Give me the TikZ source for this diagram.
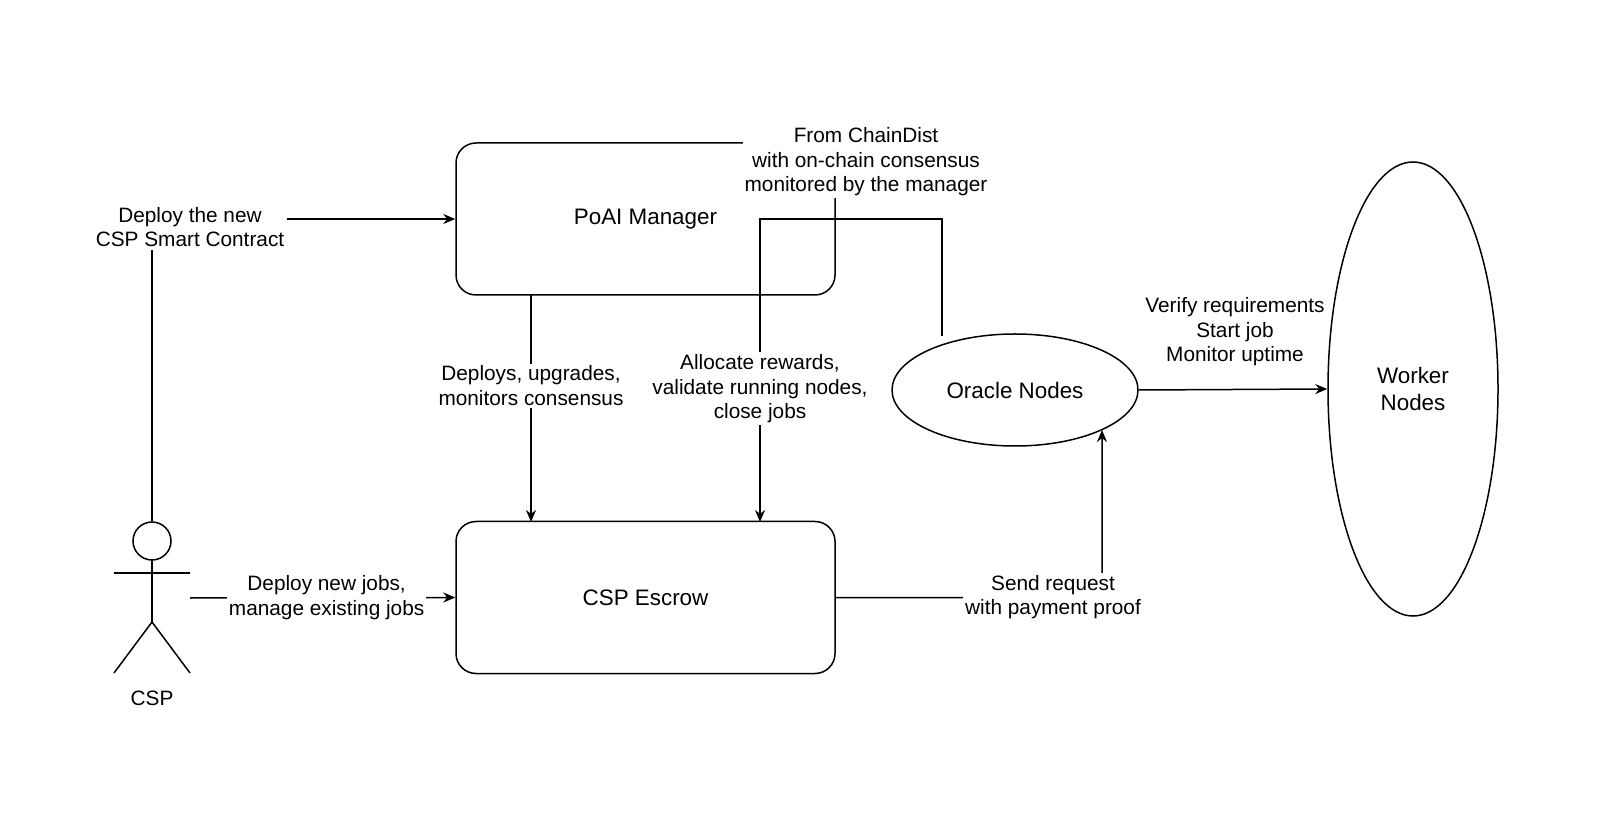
\documentclass[tikz,border=0pt]{standalone}
\usepackage{fontspec}
\setmainfont{Liberation Sans}
\usetikzlibrary{arrows.meta,shapes.geometric}
\begin{document}
\begin{tikzpicture}[x=0.5pt,y=-0.5pt,line width=0.75pt,
  box/.style={draw,rounded corners=10pt,minimum width=189.5pt,minimum height=76pt,font=\fontsize{11.2}{13.5}\selectfont},
  ell/.style={draw,ellipse,inner sep=0pt,font=\fontsize{11.2}{13.5}\selectfont},
  lbl/.style={fill=white,align=center,inner sep=1pt},
  arr/.style={-{Stealth[length=6pt,width=5pt]}},
  every node/.style={font=\fontsize{10.4}{12.3}\selectfont}]
\useasboundingbox (0,0) rectangle (1600,833);
\node[box] (mgr) at (645.5,219) {PoAI Manager};
\node[box] (esc) at (645.5,597.5) {CSP Escrow};
\node[ell,minimum width=123pt,minimum height=56pt] (orc) at (1015,390) {Oracle Nodes};
\node[ell,minimum width=85pt,minimum height=227pt,align=center] (wrk) at (1413,389) {Worker\\Nodes};
\node[lbl] (chain) at (866,162) {From ChainDist\\with on-chain consensus\\monitored by the manager};
% actor
\node[draw,circle,minimum size=19pt,inner sep=0pt] (head) at (152,541) {};
\coordinate (neck) at (152,560);
\coordinate (hip) at (152,622);
\draw (neck) -- (hip);
\coordinate (al) at (114,573); \coordinate (ar) at (190,573);
\draw (al) -- (ar);
\coordinate (ll) at (114,673); \coordinate (lr) at (190,673);
\draw (ll) -- (hip) -- (lr);
\node (csp) at (152,698) {CSP};
% deploy contract
\node[lbl] (dl) at (190,227) {Deploy the new\\CSP Smart Contract};
\draw (head.north) -- (head.north |- dl.south);
\coordinate (m1) at (dl.east |- mgr.west);
\draw[arr] (m1) -- (mgr.west);
% deploy jobs
\coordinate (a1) at (190,598);
\draw[arr] (a1) -- (esc.west) node[lbl,midway,xshift=2pt] {Deploy new jobs,\\manage existing jobs};
% manager to escrow
\coordinate (s1) at (531,295); \coordinate (e1) at (531,522);
\draw[arr] (s1) -- (e1) node[lbl,pos=0.4] {Deploys, upgrades,\\monitors consensus};
% oracle to escrow
\coordinate (o1) at (942,336); \coordinate (c1) at (760,219); \coordinate (e2) at (760,522);
\draw[arr] (o1) |- (c1) -- (e2) node[lbl,pos=0.56] {Allocate rewards,\\validate running nodes,\\close jobs};
% escrow to oracle
\coordinate (k1) at (1102,598); \coordinate (o2) at (1102,430);
\draw[arr] (esc.east) -- (k1) -- (o2);
\node[lbl] (sr) at (1053,597) {Send request\\with payment proof};
% oracle to worker
\draw[arr] (orc.east) -- (wrk.west);
\node[align=center] (vr) at (1235,332) {Verify requirements\\Start job\\Monitor uptime};
\end{tikzpicture}
\end{document}
